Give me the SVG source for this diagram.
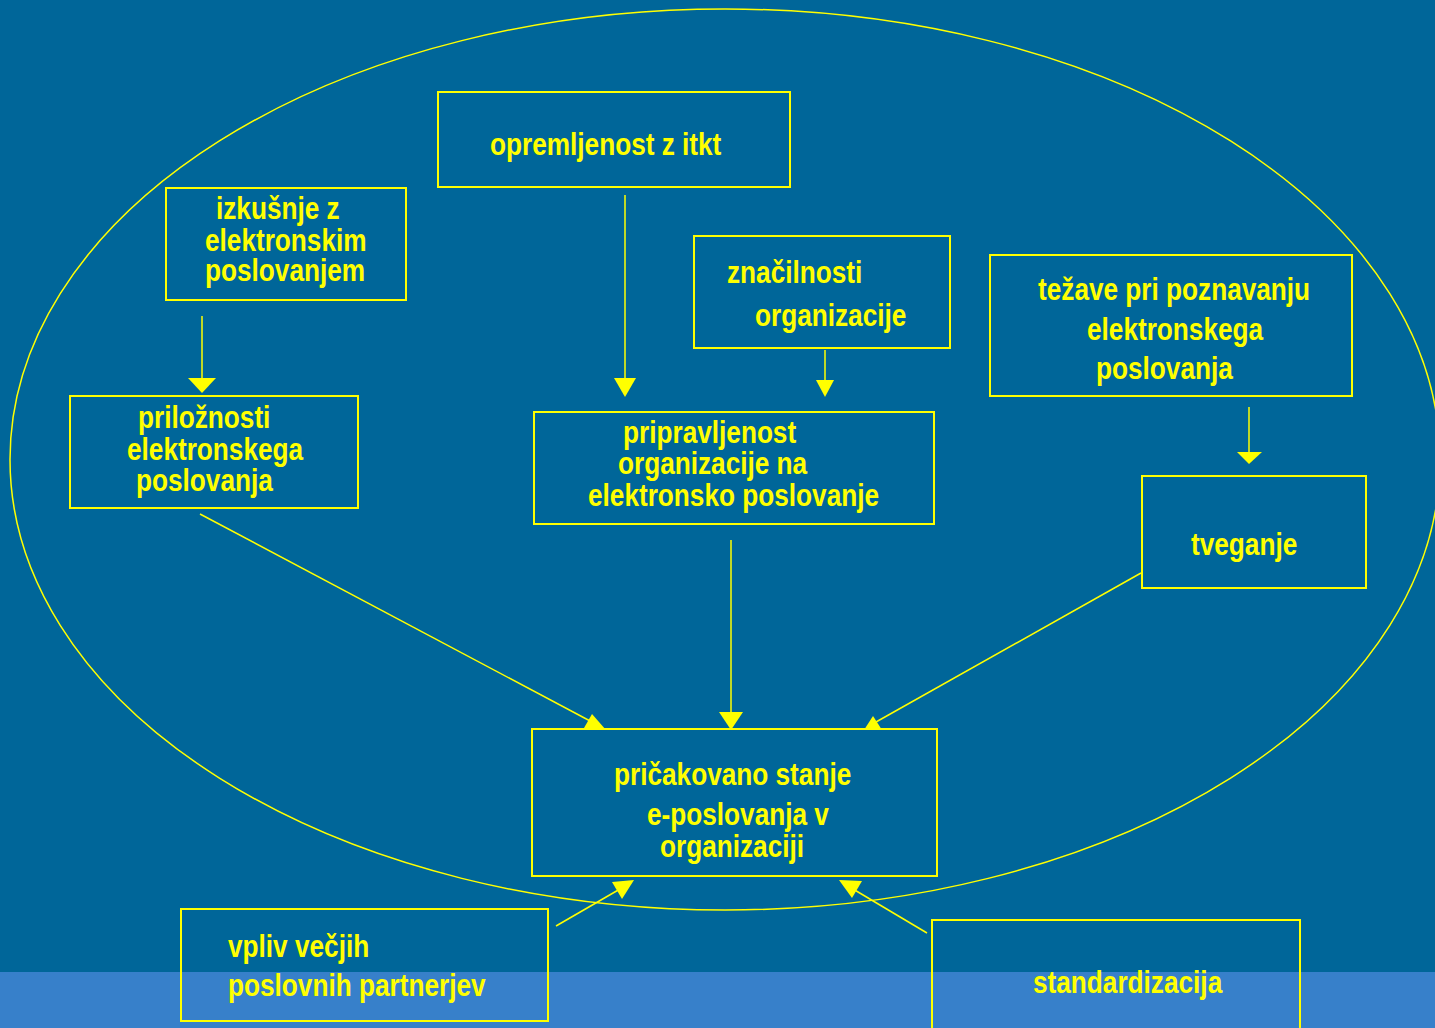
<svg xmlns="http://www.w3.org/2000/svg" width="1435" height="1028" viewBox="0 0 1435 1028">
<style>
.bg{fill:#006699}
.band{fill:#3780CA}
.box{fill:none;stroke:#FFFF00;stroke-width:2}
.ell{fill:none;stroke:#FFFF00;stroke-width:1.5}
.ln{stroke:#FFFF00;stroke-width:1.5;fill:none}
.ah{fill:#FFFF00;stroke:none}
text{font-family:"Liberation Sans",Arial,sans-serif;font-weight:bold;font-size:31px;fill:#FFFF00}
</style>
<rect class="bg" x="0" y="0" width="1435" height="1028"/>
<rect class="band" x="0" y="972" width="1435" height="56"/>
<ellipse class="ell" cx="725" cy="459.5" rx="715" ry="450.5"/>

<g id="connectors">
  <line class="ln" x1="202" y1="316" x2="202" y2="380"/>
  <polygon class="ah" points="188,378 216,378 202,393"/>
  <line class="ln" x1="625" y1="195" x2="625" y2="380"/>
  <polygon class="ah" points="614,378 636,378 625,397"/>
  <line class="ln" x1="825" y1="350" x2="825" y2="382"/>
  <polygon class="ah" points="816,380 834,380 825,397"/>
  <line class="ln" x1="1249" y1="407" x2="1249" y2="453"/>
  <polygon class="ah" points="1237,452 1262,452 1249,464"/>
  <line class="ln" x1="200" y1="514" x2="592" y2="722"/>
  <polygon class="ah" points="606,730 584,728 592,714"/>
  <line class="ln" x1="731" y1="540" x2="731" y2="714"/>
  <polygon class="ah" points="719,712 743,712 731,730"/>
  <line class="ln" x1="1141" y1="573" x2="876" y2="722"/>
  <polygon class="ah" points="864,730 873,716 882,730"/>
  <line class="ln" x1="556" y1="926" x2="620" y2="889"/>
  <polygon class="ah" points="634,880 612,882 622,899"/>
  <line class="ln" x1="927" y1="933" x2="853" y2="889"/>
  <polygon class="ah" points="839,880 862,881 852,898"/>
</g>

<g id="n-opremljenost">
  <rect class="box" x="438" y="92" width="352" height="95"/>
  <text transform="translate(490 155) scale(0.845 1)">opremljenost z itkt</text>
</g>
<g id="n-izkusnje">
  <rect class="box" x="166" y="188" width="240" height="112"/>
  <text transform="translate(216 219) scale(0.845 1)">izkušnje z</text>
  <text transform="translate(205 251) scale(0.845 1)">elektronskim</text>
  <text transform="translate(205 281) scale(0.845 1)">poslovanjem</text>
</g>
<g id="n-znacilnosti">
  <rect class="box" x="694" y="236" width="256" height="112"/>
  <text transform="translate(727 283) scale(0.845 1)">značilnosti</text>
  <text transform="translate(755 326) scale(0.845 1)">organizacije</text>
</g>
<g id="n-tezave">
  <rect class="box" x="990" y="255" width="362" height="141"/>
  <text transform="translate(1038 300) scale(0.845 1)">težave pri poznavanju</text>
  <text transform="translate(1087 340) scale(0.845 1)">elektronskega</text>
  <text transform="translate(1096 379) scale(0.845 1)">poslovanja</text>
</g>
<g id="n-priloznosti">
  <rect class="box" x="70" y="396" width="288" height="112"/>
  <text transform="translate(138 428) scale(0.845 1)">priložnosti</text>
  <text transform="translate(127 460) scale(0.845 1)">elektronskega</text>
  <text transform="translate(136 491) scale(0.845 1)">poslovanja</text>
</g>
<g id="n-pripravljenost">
  <rect class="box" x="534" y="412" width="400" height="112"/>
  <text transform="translate(623 443) scale(0.845 1)">pripravljenost</text>
  <text transform="translate(618 474) scale(0.845 1)">organizacije na</text>
  <text transform="translate(588 506) scale(0.845 1)">elektronsko poslovanje</text>
</g>
<g id="n-tveganje">
  <rect class="box" x="1142" y="476" width="224" height="112"/>
  <text transform="translate(1191 555) scale(0.845 1)">tveganje</text>
</g>
<g id="n-pricakovano">
  <rect class="box" x="532" y="729" width="405" height="147"/>
  <text transform="translate(614 785) scale(0.845 1)">pričakovano stanje</text>
  <text transform="translate(647 825) scale(0.845 1)">e-poslovanja v</text>
  <text transform="translate(660 857) scale(0.845 1)">organizaciji</text>
</g>
<g id="n-vpliv">
  <rect class="box" x="181" y="909" width="367" height="112"/>
  <text transform="translate(228 957) scale(0.845 1)">vpliv večjih</text>
  <text transform="translate(228 996) scale(0.845 1)">poslovnih partnerjev</text>
</g>
<g id="n-standardizacija">
  <rect class="box" x="932" y="920" width="368" height="120"/>
  <text transform="translate(1033 993) scale(0.845 1)">standardizacija</text>
</g>
</svg>
